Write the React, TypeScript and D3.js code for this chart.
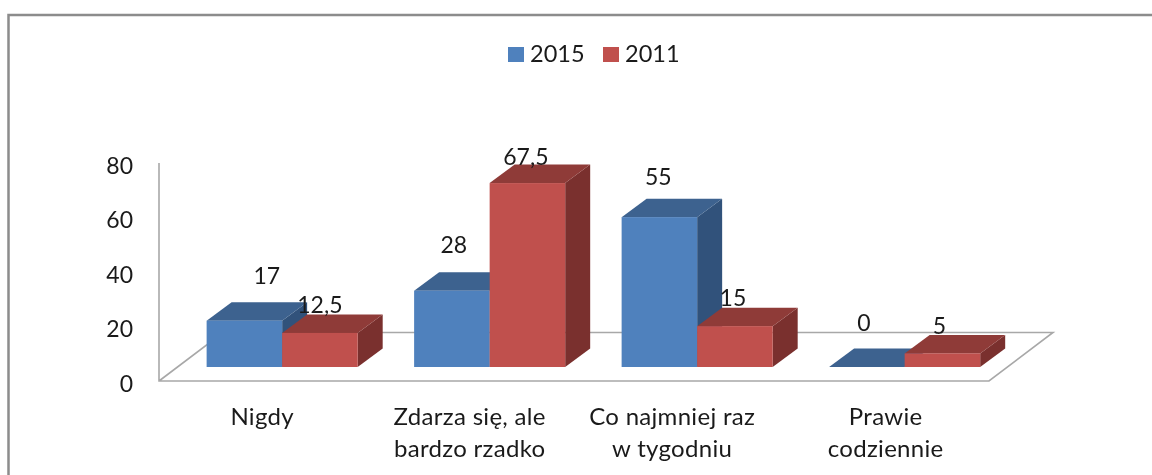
import React from "react";
import * as d3 from "d3";

const categories = [["Nigdy"], ["Zdarza się, ale", "bardzo rzadko"], ["Co najmniej raz", "w tygodniu"], ["Prawie", "codziennie"]];
const seriesNames = ["2015", "2011"];
const values2015 = [17, 28, 55, 0];
const values2011 = [12.5, 67.5, 15, 5];
const valueLabels2015 = ["17", "28", "55", "0"];
const valueLabels2011 = ["12,5", "67,5", "15", "5"];
const yTicks = [0, 20, 40, 60, 80];

const font = "Lato, sans-serif";
const front = ["#4f81bd", "#c0504d"];
const top = ["#3d628f", "#8f3b38"];
const side = ["#31527b", "#7a302e"];
// hand placement of the value labels relative to each bar's top front edge
const labelDx = [[22.5, 0], [2, -1.5], [-1, -2], [-3, -3]];
const labelDy = [[-37, -20], [-38, -18], [-32, -20], [-36, -19]];
const categoryDx = [-21, -21, -26, -20];

export default function App() {
  const band = d3.scaleBand<number>().domain([0, 1, 2, 3]).range([178.4, 1008.4]).paddingInner(0.272).paddingOuter(0.136);
  const bar = d3.scaleBand<number>().domain([0, 1]).range([0, band.bandwidth()]);
  const wall = d3.scaleLinear().domain([0, 80]).range([381, 163]);
  const y = d3.scaleLinear().domain([0, 80]).range([367, 149]);
  const dx = 25, dy = 18.5;
  const pts = (a: number[][]) => a.map((p) => p.join(",")).join(" ");
  return (
    <svg width={1152} height={475} style={{ position: "absolute", left: 0, top: 0, background: "#fff", filter: "blur(0.45px)" }} fontFamily={font} fill="#1a1a1a">
      <path d="M8.5,475V15H1152" fill="none" stroke="#8c8c8c" strokeWidth={2.5} />
      <polyline points="159,163 159,381 989,381 1053,332.5 223,332.5 159,381" fill="none" stroke="#a8a8a8" strokeWidth={1.6} />
      {yTicks.map((t) => (
        <text key={t} x={133} y={wall(t) + 10.5} fontSize={23} textAnchor="end">{t}</text>
      ))}
      {[values2015, values2011].map((vals, s) => vals.map((v, i) => {
        const x0 = band(i)! + bar(s)!;
        const x1 = x0 + bar.bandwidth();
        const yb = y(0), yt = y(v);
        return (
          <g key={`${s}-${i}`}>
            <polygon points={pts([[x1, yt], [x1 + dx, yt - dy], [x1 + dx, yb - dy], [x1, yb]])} fill={side[s]} />
            <polygon points={pts([[x0, yt], [x0 + dx, yt - dy], [x1 + dx, yt - dy], [x1, yt]])} fill={top[s]} />
            <rect x={x0} y={yt} width={bar.bandwidth()} height={yb - yt} fill={front[s]} />
          </g>
        );
      }))}
      {[valueLabels2015, valueLabels2011].map((labs, s) => labs.map((l, i) => {
        const v = (s === 0 ? values2015 : values2011)[i];
        return (
          <text key={`${s}-${i}`} x={band(i)! + bar(s)! + bar.bandwidth() / 2 + labelDx[i][s]} y={y(v) + labelDy[i][s]} fontSize={23} textAnchor="middle">{l}</text>
        );
      }))}
      {categories.map((lines, i) => (
        <text key={i} fontSize={24} letterSpacing={0.3} textAnchor="middle">
          {lines.map((ln, j) => <tspan key={j} x={band(i)! + band.bandwidth() / 2 + categoryDx[i] + 1} y={425 + j * 32}>{ln}</tspan>)}
        </text>
      ))}
      {seriesNames.map((n, i) => (
        <g key={n}>
          <rect x={508 + i * 95} y={47} width={16} height={15} fill={front[i]} />
          <text x={530 + i * 95} y={62} fontSize={23.5}>{n}</text>
        </g>
      ))}
    </svg>
  );
}
